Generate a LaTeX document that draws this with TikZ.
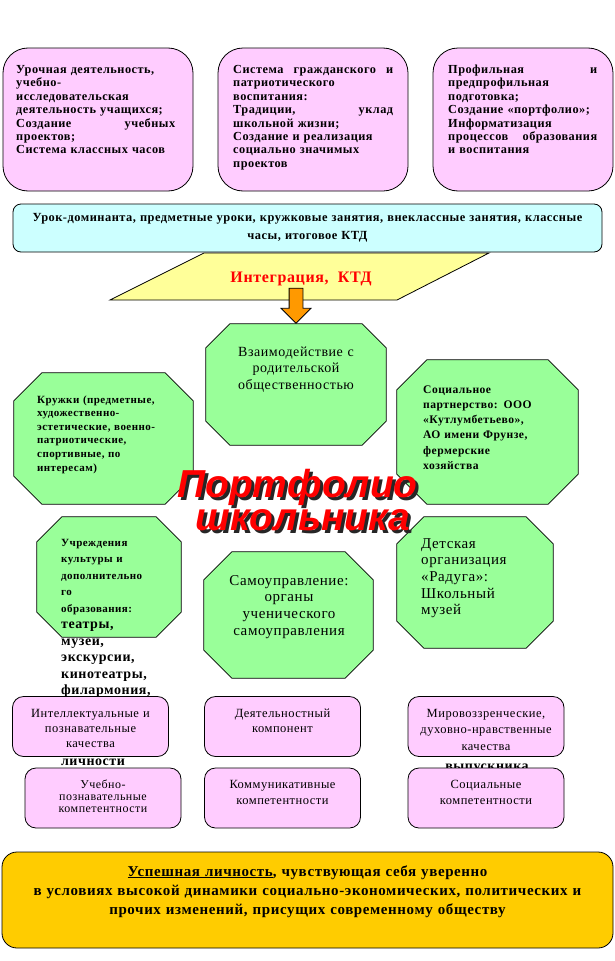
\documentclass[tikz,border=0pt]{standalone}
\usepackage{fontspec}
\setmainfont[LetterSpace=4]{Liberation Serif}
\newfontfamily\titlefont{Liberation Sans}
\usetikzlibrary{positioning,shapes.arrows}

\definecolor{pinkfill}{HTML}{FFCCFF}
\definecolor{cyanfill}{HTML}{CCFFFF}
\definecolor{yellowfill}{HTML}{FFFF99}
\definecolor{greenfill}{HTML}{99FF99}
\definecolor{arrowfill}{HTML}{FF9900}
\definecolor{goalfill}{HTML}{FFCC00}

\tikzset{
	topbox/.style={rectangle, draw=black, fill=pinkfill, line width=0.8pt, rounded corners=25pt, minimum height=143pt},
	lowbox/.style={rectangle, draw=black, fill=pinkfill, line width=0.8pt, rounded corners=11pt, minimum width=156pt, minimum height=60pt},
	octframe/.style={rectangle, inner sep=0pt},
	toptext/.style={anchor=base west, inner sep=0pt, align=left, font=\bfseries\fontsize{12.3}{13.4}\selectfont},
	octtext/.style={anchor=base, inner sep=0pt, align=center, font=\fontsize{14}{16.5}\selectfont},
	octsmall/.style={anchor=base west, inner sep=0pt, align=left, font=\bfseries\fontsize{11}{14}\selectfont},
	lowtext/.style={anchor=base, inner sep=0pt, align=center, font=\fontsize{12.5}{15}\selectfont},
	overflow/.style={anchor=base, inner sep=0pt, font=\bfseries\fontsize{14}{16}\selectfont},
	titletext/.style={anchor=base, inner sep=0pt, font=\titlefont\bfseries\itshape\fontsize{39}{39}\selectfont}
}

% green octagon round an empty frame node: #1 node, #2 corner cut
\newcommand\octagon[2]{%
	\filldraw[fill=greenfill, draw=black, line width=0.8pt]
		([xshift=#2]#1.north west) -- ([xshift=-#2]#1.north east)
		-- ([yshift=-#2]#1.north east) -- ([yshift=#2]#1.south east)
		-- ([xshift=-#2]#1.south east) -- ([xshift=#2]#1.south west)
		-- ([yshift=#2]#1.south west) -- ([yshift=-#2]#1.north west) -- cycle;}

\begin{document}
\begin{tikzpicture}[x=1pt, y=-1pt]
	\useasboundingbox (0,0) rectangle (614,961);

	% top row
	\node (lessons) at (98,119.5) [topbox, minimum width=190pt] {};
	\node (civic) at (313,119.5) [topbox, minimum width=190pt] {};
	\node (profile) at (523,119.5) [topbox, minimum width=180pt] {};
	\node (lessonstext) at (16,73.5) [toptext, text width=159pt] {Урочная деятельность,\\ учебно-\\ исследовательская\\ деятельность учащихся;\\ Создание \hfill учебных\\ проектов;\\ Система классных часов};
	\node (civictext) at (233,73.5) [toptext, text width=160pt] {Система \hfill гражданского \hfill и\\ патриотического\\ воспитания:\\ Традиции, \hfill уклад\\ школьной жизни;\\ Создание и реализация\\ социально значимых\\ проектов};
	\node (profiletext) at (448,73.5) [toptext, text width=149pt] {Профильная \hfill и\\ предпрофильная\\ подготовка;\\ Создание «портфолио»;\\ Информатизация\\ процессов \hfill образования\\ и воспитания};

	% integration band
	\filldraw[fill=yellowfill, draw=black, line width=0.8pt] (204,253) -- (489,253) -- (397,300) -- (110,300) -- cycle;
	\node (forms) at (307.5,228) [rectangle, draw=black, fill=cyanfill, line width=0.8pt, rounded corners=8pt, minimum width=589pt, minimum height=48pt, text width=575pt, align=center, font=\bfseries\fontsize{12.4}{18}\selectfont] {Урок-доминанта, предметные уроки, кружковые занятия, внеклассные занятия, классные\\ часы, итоговое КТД};
	\node (integ) at (301,282) [anchor=base, inner sep=0pt, text=red, font=\bfseries\fontsize{16}{16}\selectfont] {Интеграция,\ \ КТД};

	% octagons
	\node (parents) at (296,384.5) [octframe, minimum width=180pt, minimum height=121pt] {};
	\node (kruzhki) at (103.5,438.5) [octframe, minimum width=179pt, minimum height=131pt] {};
	\node (partners) at (487.5,432) [octframe, minimum width=181pt, minimum height=144pt] {};
	\node (culture) at (109,577) [octframe, minimum width=144pt, minimum height=120pt] {};
	\node (selfgov) at (288.5,615) [octframe, minimum width=169pt, minimum height=126pt] {};
	\node (detsk) at (475,582.5) [octframe, minimum width=156pt, minimum height=131pt] {};
	\octagon{parents}{24pt}
	\octagon{kruzhki}{28pt}
	\octagon{partners}{30pt}
	\octagon{culture}{25pt}
	\octagon{selfgov}{28pt}
	\octagon{detsk}{27pt}
	\node (flow) at (parents.north) [single arrow, draw=black, fill=arrowfill, line width=0.8pt, minimum height=35pt, single arrow head extend=8pt, single arrow head indent=0pt, inner xsep=0pt, inner ysep=6.5pt, rotate=-90, anchor=tip] {};

	\node (parentstext) at (296,356) [octtext, text width=170pt] {Взаимодействие с\\ родительской\\ общественностью};
	\node (kruzhkitext) at (37,403) [octsmall, text width=150pt, font=\bfseries\fontsize{11}{13.6}\selectfont] {Кружки (предметные,\\ художественно-\\ эстетические, военно-\\ патриотические,\\ спортивные, по\\ интересам)};
	\node (partnerstext) at (423,393) [octsmall, text width=150pt, font=\bfseries\fontsize{11.6}{15.3}\selectfont] {Социальное\\ партнерство: ООО\\ «Кутлумбетьево»,\\ АО имени Фрунзе,\\ фермерские\\ хозяйства};
	\node (culturetext) at (61,546) [octsmall, text width=120pt, font=\bfseries\fontsize{11}{16.5}\selectfont] {Учреждения\\ культуры и\\ дополнительно\\ го\\ образования:\\ \fontsize{14}{16.5}\selectfont театры,\\ музеи,\\ экскурсии,\\ кинотеатры,\\ филармония,};
	\node (selfgovtext) at (289,585) [octtext, text width=160pt, font=\fontsize{15}{16.7}\selectfont] {Самоуправление:\\ органы\\ ученического\\ самоуправления};
	\node (detsktext) at (421,548) [octsmall, text width=125pt, font=\fontsize{15}{16.7}\selectfont] {Детская\\ организация\\ «Радуга»:\\ Школьный\\ музей};

	% title with shadow
	\node (titleshadow) at (300.5,500) [titletext, text=black!85] {Портфолио};
	\node (title) at (297.5,497) [titletext, text=red] {Портфолио};
	\node (subtitleshadow) at (306,533) [titletext, text=black!85] {школьника};
	\node (subtitle) at (303,530) [titletext, text=red] {школьника};

	% qualities and competences
	\node (intell) at (90.5,726.5) [lowbox] {};
	\node (intelltext) at (90.5,717) [lowtext, text width=150pt] {Интеллектуальные и\\ познавательные\\ качества};
	\node (intellmore) at (93,765) [overflow] {личности};
	\node (activity) at (282.5,726.5) [lowbox] {};
	\node (activitytext) at (282.5,717) [lowtext, text width=150pt] {Деятельностный\\ компонент};
	\node (worldview) at (486,726.5) [lowbox] {};
	\node (worldviewtext) at (486,717) [lowtext, text width=150pt, font=\fontsize{12.5}{16.5}\selectfont] {Мировоззренческие,\\ духовно-нравственные\\ качества};
	\node (worldviewmore) at (487,770) [overflow] {выпускника};
	\node (learning) at (103,798) [lowbox] {};
	\node (learningtext) at (103,788) [lowtext, text width=150pt, font=\fontsize{12}{12}\selectfont] {Учебно-\\ познавательные\\ компетентности};
	\node (communic) at (282.5,798) [lowbox] {};
	\node (communictext) at (282.5,788) [lowtext, text width=150pt, font=\fontsize{12.5}{16}\selectfont] {Коммуникативные\\ компетентности};
	\node (social) at (486,798) [lowbox] {};
	\node (socialtext) at (486,788) [lowtext, text width=150pt, font=\fontsize{12.5}{16}\selectfont] {Социальные\\ компетентности};

	% goal
	\node (goal) at (307.5,900) [rectangle, draw=black, fill=goalfill, line width=0.8pt, rounded corners=15pt, minimum width=611pt, minimum height=96pt] {};
	\node (goaltext) at (307.5,876) [anchor=base, inner sep=0pt, text width=590pt, align=center, font=\bfseries\fontsize{15}{19}\selectfont] {\underline{Успешная личность}, чувствующая себя уверенно\\ в условиях высокой динамики социально-экономических, политических и\\ прочих изменений, присущих современному обществу};
\end{tikzpicture}
\end{document}
